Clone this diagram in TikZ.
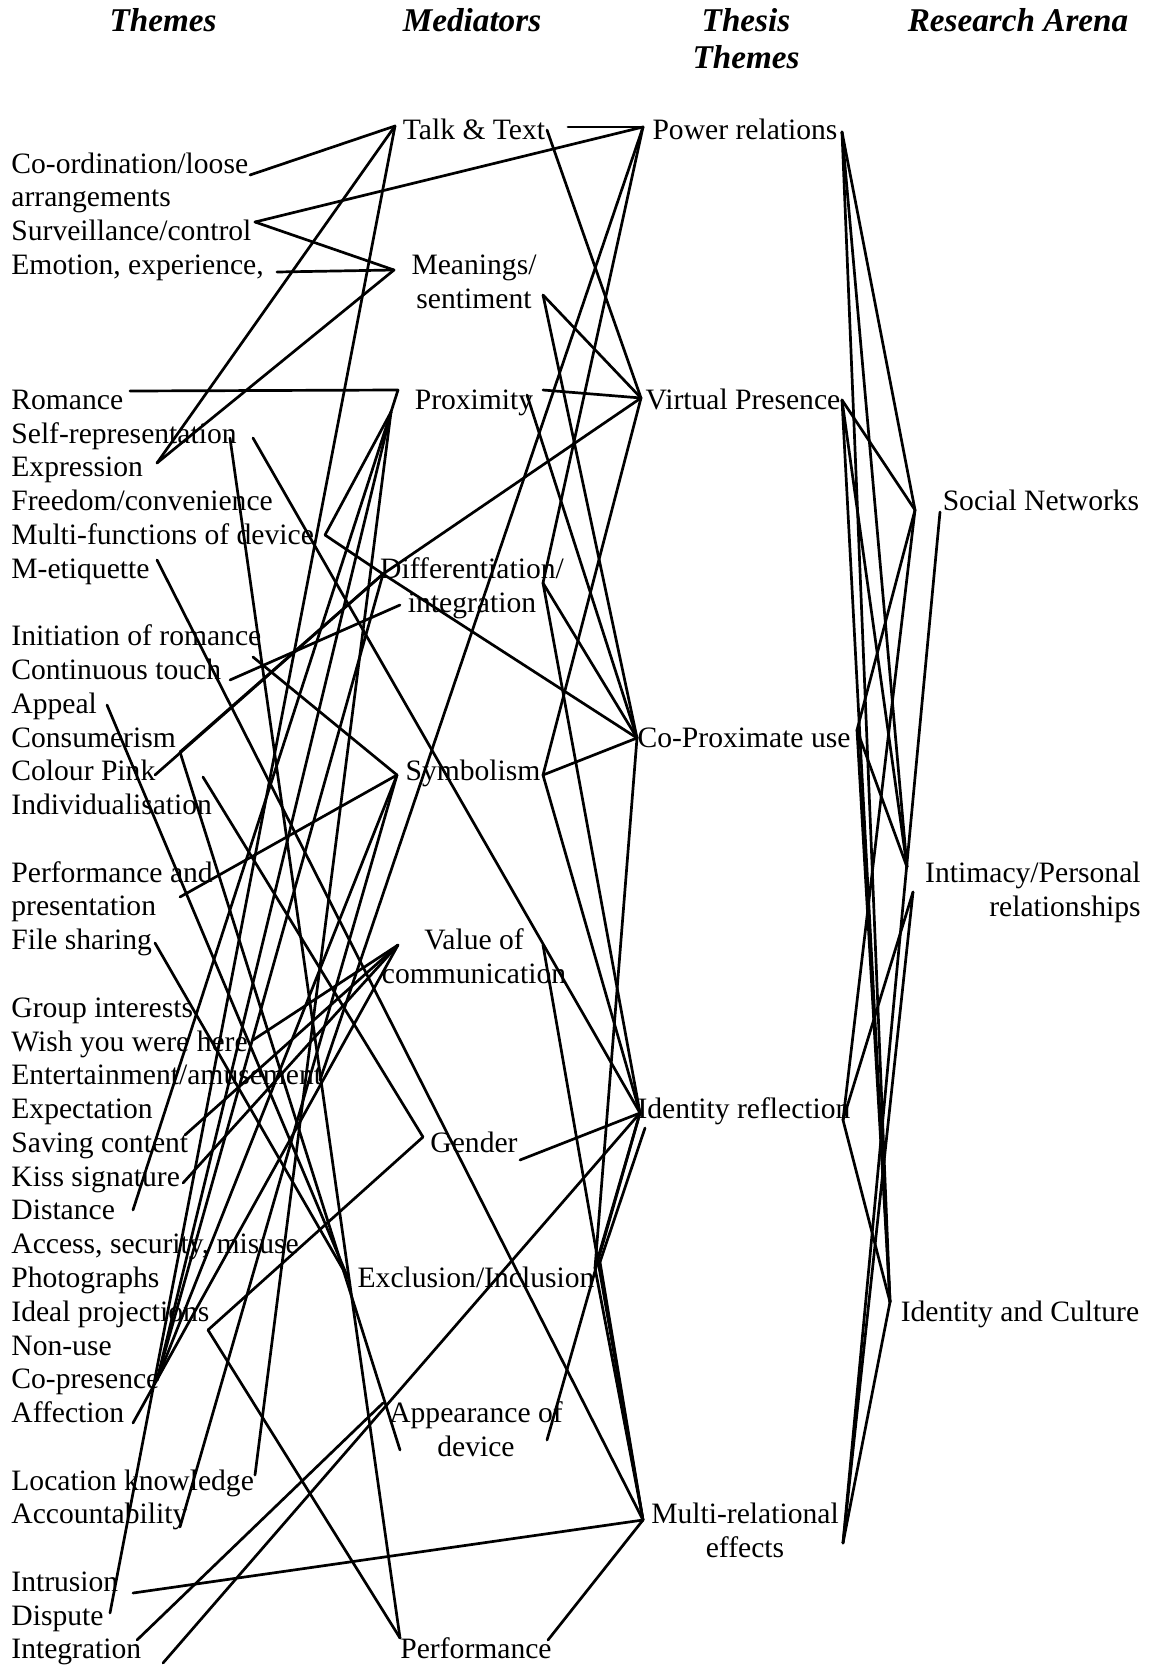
\documentclass[tikz,border=0pt]{standalone}
\usepackage{fontspec}
\setmainfont{Liberation Serif}
\newcommand{\twol}[2]{\begin{tabular}[t]{@{}c@{}}#1\\#2\end{tabular}}
\newcommand{\twor}[2]{\begin{tabular}[t]{@{}r@{}}#1\\#2\end{tabular}}
\begin{document}
\begin{tikzpicture}[x=0.5pt,y=-0.5pt,
  lbl/.style={inner sep=0pt,font=\fontsize{14.8}{16.9}\selectfont},
  thm/.style={lbl,anchor=base west},
  mid/.style={lbl,anchor=base},
  hdr/.style={inner sep=0pt,anchor=base,font=\fontsize{16.6}{18}\selectfont\bfseries\itshape},
  ln/.style={line width=1.35pt,line cap=round,line join=round}]
\useasboundingbox (0,0) rectangle (1148,1665);
% headers
\node[hdr] (h1) at (163,32) {Themes};
\node[hdr] (h2) at (472,32) {Mediators};
\node[hdr] (h3) at (746,32) {\begin{tabular}[t]{@{}c@{}}Thesis\\Themes\end{tabular}};
\node[hdr] (h4) at (1018,32) {Research Arena};
% themes
\node[thm] (t0) at (11,173) {Co-ordination/loose};
\node[thm] (t1) at (11,206.8) {arrangements};
\node[thm] (t2) at (11,240.5) {Surveillance/control};
\node[thm] (t3) at (11,274.3) {Emotion, experience,};
\node[thm] (t7) at (11,409.4) {Romance};
\node[thm] (t8) at (11,443.2) {Self-representation};
\node[thm] (t9) at (11,476.9) {Expression};
\node[thm] (t10) at (11,510.7) {Freedom/convenience};
\node[thm] (t11) at (11,544.5) {Multi-functions of device};
\node[thm] (t12) at (11,578.2) {M-etiquette};
\node[thm] (t14) at (11,645.8) {Initiation of romance};
\node[thm] (t15) at (11,679.6) {Continuous touch};
\node[thm] (t16) at (11,713.3) {Appeal};
\node[thm] (t17) at (11,747.1) {Consumerism};
\node[thm] (t18) at (11,780.9) {Colour Pink};
\node[thm] (t19) at (11,814.6) {Individualisation};
\node[thm] (t21) at (11,882.2) {Performance and};
\node[thm] (t22) at (11,915.9) {presentation};
\node[thm] (t23) at (11,949.7) {File sharing};
\node[thm] (t25) at (11,1017.3) {Group interests};
\node[thm] (t26) at (11,1051) {Wish you were here};
\node[thm] (t27) at (11,1084.8) {Entertainment/amusement};
\node[thm] (t28) at (11,1118.6) {Expectation};
\node[thm] (t29) at (11,1152.3) {Saving content};
\node[thm] (t30) at (11,1186.1) {Kiss signature};
\node[thm] (t31) at (11,1219.9) {Distance};
\node[thm] (t32) at (11,1253.6) {Access, security, misuse};
\node[thm] (t33) at (11,1287.4) {Photographs};
\node[thm] (t34) at (11,1321.2) {Ideal projections};
\node[thm] (t35) at (11,1355) {Non-use};
\node[thm] (t36) at (11,1388.7) {Co-presence};
\node[thm] (t37) at (11,1422.5) {Affection};
\node[thm] (t39) at (11,1490) {Location knowledge};
\node[thm] (t40) at (11,1523.8) {Accountability};
\node[thm] (t42) at (11,1591.3) {Intrusion};
\node[thm] (t43) at (11,1625.1) {Dispute};
\node[thm] (t44) at (11,1658.9) {Integration};
% mediators
\node[mid] (m1) at (474,139.2) {Talk \& Text};
\node[mid] (m2) at (474,274.3) {\twol{Meanings/}{sentiment}};
\node[mid] (m3) at (474,409.4) {Proximity};
\node[mid] (m4) at (472,578.2) {\twol{Differentiation/}{integration}};
\node[mid] (m5) at (473,780.9) {Symbolism};
\node[mid] (m6) at (474,949.7) {\twol{Value of}{communication}};
\node[mid] (m7) at (474,1152.3) {Gender};
\node[mid] (m8) at (476,1287.4) {Exclusion/Inclusion};
\node[mid] (m9) at (476,1422.5) {\twol{Appearance of}{device}};
\node[mid] (m10) at (476,1658.9) {Performance};
% thesis themes
\node[mid] (s1) at (745,139.2) {Power relations};
\node[mid] (s2) at (743,409.4) {Virtual Presence};
\node[mid] (s3) at (744,747.1) {Co-Proximate use};
\node[mid] (s4) at (744,1118.6) {Identity reflection};
\node[mid] (s5) at (745,1523.8) {\twol{Multi-relational}{effects}};
% research arena
\node[mid] (r1) at (1041,510.7) {Social Networks};
\node[lbl,anchor=base east] (r2) at (1141,882.2) {\twor{Intimacy/Personal}{relationships}};
\node[mid] (r3) at (1020,1321.2) {Identity and Culture};
% theme ends
\coordinate (co) at (250,175);
\coordinate (su) at (255,222);
\coordinate (em) at (277,272);
\coordinate (ro) at (130,391);
\coordinate (sr1) at (230,438);
\coordinate (sr2) at (253,438);
\coordinate (ex) at (157,463);
\coordinate (dv) at (325,535);
\coordinate (met) at (157,560);
\coordinate (inr) at (253,657);
\coordinate (ct) at (230,680);
\coordinate (apl) at (107,705);
\coordinate (cs) at (180,752);
\coordinate (cpk) at (155,775);
\coordinate (ind) at (203,777);
\coordinate (pa) at (180,897);
\coordinate (fs) at (155,943);
\coordinate (wy) at (253,1040);
\coordinate (ent) at (320,1080);
\coordinate (sc) at (185,1135);
\coordinate (ks) at (183,1183);
\coordinate (dis) at (133,1210);
\coordinate (ip) at (208,1330);
\coordinate (cpr) at (157,1380);
\coordinate (aff) at (133,1423);
\coordinate (lk) at (255,1475);
\coordinate (acc) at (180,1527);
\coordinate (intr) at (133,1593);
\coordinate (disp) at (110,1613);
\coordinate (integ) at (137,1640);
\coordinate (integb) at (163,1663);
% mediator points
\coordinate (TTL) at (395,126); \coordinate (TTR) at (568,127); \coordinate (TTRb) at (547,130);
\coordinate (MEL) at (394,270); \coordinate (MER) at (543,295);
\coordinate (PRL) at (398,390); \coordinate (PRh) at (391,412); \coordinate (PRR) at (543,390); \coordinate (PRy) at (527,395);
\coordinate (DIL) at (383,574); \coordinate (DILb) at (400,605); \coordinate (DIR) at (543,583);
\coordinate (SYL) at (397,775); \coordinate (SYR) at (543,775);
\coordinate (VCL) at (398,945); \coordinate (VCR) at (543,945);
\coordinate (GEL) at (423,1137); \coordinate (GER) at (520,1160);
\coordinate (EXL) at (348,1278); \coordinate (EXR) at (595,1268); \coordinate (EXRb) at (600,1262);
\coordinate (APL) at (383,1403); \coordinate (APLb) at (400,1450); \coordinate (APR) at (547,1440);
\coordinate (PEL) at (400,1638); \coordinate (PER) at (548,1640);
% thesis points
\coordinate (PWL) at (643,127); \coordinate (PWR) at (842,132);
\coordinate (VPL) at (641,398); \coordinate (VPR) at (842,400);
\coordinate (CPL) at (637,738); \coordinate (CPR) at (857,730);
\coordinate (IRL) at (640,1113); \coordinate (IRLb) at (645,1128); \coordinate (IRR) at (843,1120);
\coordinate (MRL) at (643,1520); \coordinate (MRR) at (843,1543);
% arena points
\coordinate (SNL) at (915,510); \coordinate (SNLb) at (940,512);
\coordinate (IPL) at (907,867); \coordinate (IPLb) at (913,892);
\coordinate (ICL) at (890,1302);
% themes -> mediators
\draw[ln] (co) -- (TTL);
\draw[ln] (su) -- (PWL);
\draw[ln] (su) -- (MEL);
\draw[ln] (em) -- (MEL);
\draw[ln] (ro) -- (PRL) -- (PRh) -- (dv) -- (DIL);
\draw[ln] (ex) -- (TTL);
\draw[ln] (ex) -- (MEL);
\draw[ln] (sr1) -- (PEL);
\draw[ln] (sr2) -- (IRL);
\draw[ln] (met) -- (MRL);
\draw[ln] (inr) -- (SYL);
\draw[ln] (ct) -- (DILb);
\draw[ln] (apl) -- (EXL);
\draw[ln] (cs) -- (DIL);
\draw[ln] (cs) -- (APLb);
\draw[ln] (cpk) -- (DIL);
\draw[ln] (ind) -- (GEL);
\draw[ln] (pa) -- (SYL);
\draw[ln] (fs) -- (EXL);
\draw[ln] (wy) -- (VCL);
\draw[ln] (ent) -- (PWL);
\draw[ln] (sc) -- (VCL);
\draw[ln] (ks) -- (VCL);
\draw[ln] (dis) -- (PRh);
\draw[ln] (ip) -- (GEL);
\draw[ln] (ip) -- (PEL);
\draw[ln] (cpr) -- (PRh);
\draw[ln] (cpr) -- (DIL);
\draw[ln] (cpr) -- (SYL);
\draw[ln] (aff) -- (VCL);
\draw[ln] (lk) -- (PRh);
\draw[ln] (acc) -- (SYL);
\draw[ln] (intr) -- (MRL);
\draw[ln] (disp) -- (TTL);
\draw[ln] (integ) -- (APL);
\draw[ln] (integb) -- (IRL);
% mediators -> thesis
\draw[ln] (TTR) -- (PWL);
\draw[ln] (TTRb) -- (VPL);
\draw[ln] (MER) -- (VPL);
\draw[ln] (MER) -- (CPL);
\draw[ln] (PRR) -- (VPL);
\draw[ln] (PRy) -- (CPL);
\draw[ln] (DIL) -- (VPL);
\draw[ln] (DIL) -- (CPL);
\draw[ln] (DIR) -- (CPL);
\draw[ln] (DIR) -- (IRL);
\draw[ln] (PWL) -- (DIR);
\draw[ln] (SYR) -- (CPL);
\draw[ln] (SYR) -- (VPL);
\draw[ln] (SYR) -- (IRL);
\draw[ln] (VCR) -- (MRL);
\draw[ln] (GER) -- (IRL);
\draw[ln] (EXR) -- (IRL);
\draw[ln] (EXRb) -- (IRLb);
\draw[ln] (EXR) -- (MRL);
\draw[ln] (EXRb) -- (MRL);
\draw[ln] (APR) -- (IRL);
\draw[ln] (CPL) -- (EXR);
\draw[ln] (PER) -- (MRL);
% thesis -> arena
\draw[ln] (PWR) -- (SNL);
\draw[ln] (PWR) -- (IPL);
\draw[ln] (PWR) -- (ICL);
\draw[ln] (VPR) -- (SNL);
\draw[ln] (VPR) -- (IPL);
\draw[ln] (VPR) -- (ICL);
\draw[ln] (CPR) -- (SNL);
\draw[ln] (CPR) -- (IPL);
\draw[ln] (CPR) -- (ICL);
\draw[ln] (IRR) -- (SNL);
\draw[ln] (IRR) -- (IPLb);
\draw[ln] (IRR) -- (ICL);
\draw[ln] (MRR) -- (SNLb);
\draw[ln] (MRR) -- (IPLb);
\draw[ln] (MRR) -- (ICL);
\end{tikzpicture}
\end{document}
